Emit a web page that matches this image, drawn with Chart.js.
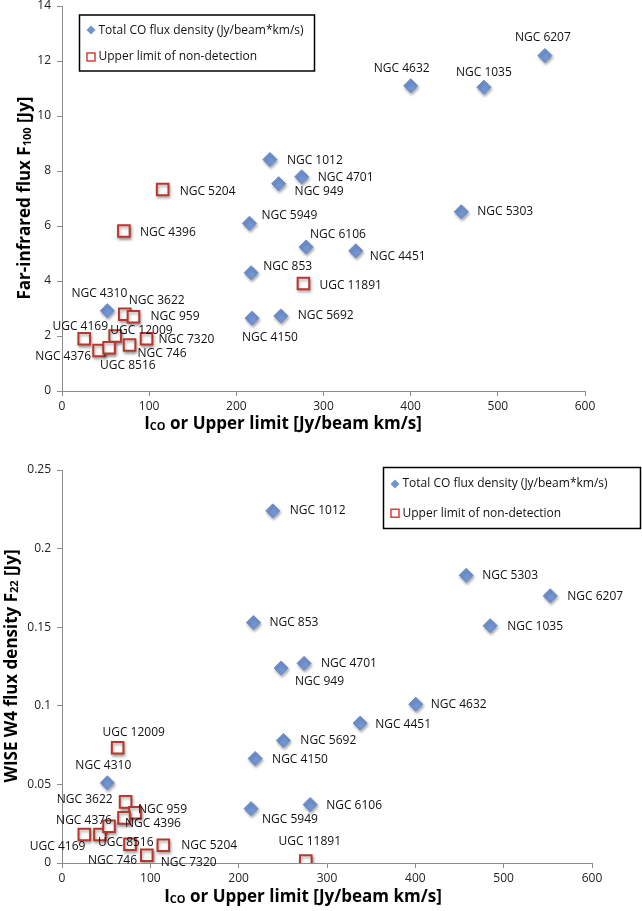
<!DOCTYPE html>
<html>
<head>
<meta charset="utf-8">
<script src="https://cdn.jsdelivr.net/npm/chart.js@4.4.0/dist/chart.umd.min.js"></script>
<style>
  body { margin: 0; background: #fff; }
  #wrapTop { position: absolute; left: 0; top: 0; width: 642px; height: 440px; }
  #wrapBottom { position: absolute; left: 0; top: 440px; width: 642px; height: 471px; }
</style>
</head>
<body>
<div id="wrapTop"><canvas id="chartTop"></canvas></div>
<div id="wrapBottom"><canvas id="chartBottom"></canvas></div>
<script>
// ---- data ----
const xTicks = [0, 100, 200, 300, 400, 500, 600];
const yTicksF100 = [0, 2, 4, 6, 8, 10, 12, 14];
const yTicksF22 = [0, 0.05, 0.1, 0.15, 0.2, 0.25];

const legendDet = 'Total CO flux density (Jy/beam*km/s)';
const legendUl = 'Upper limit of non-detection';

// top panel : F100
const detNamesF100 = ['NGC 6207', 'NGC 4632', 'NGC 1035', 'NGC 5303', 'NGC 1012', 'NGC 4701', 'NGC 949',
  'NGC 5949', 'NGC 6106', 'NGC 4451', 'NGC 853', 'NGC 4150', 'NGC 5692', 'NGC 4310'];
const detCoF100 = [554, 400, 484, 458, 238.5, 275, 248.5, 215, 280, 337, 217, 218, 251, 52];
const detF100 = [12.2, 11.1, 11.05, 6.52, 8.42, 7.79, 7.54, 6.1, 5.24, 5.1, 4.3, 2.65, 2.73, 2.92];

const ulNamesF100 = ['NGC 5204', 'NGC 4396', 'UGC 11891', 'NGC 3622', 'NGC 959', 'UGC 4169', 'UGC 12009',
  'NGC 7320', 'NGC 4376', 'UGC 8516', 'NGC 746'];
const ulCoF100 = [115.5, 71, 277, 72, 82, 25.5, 61, 97, 42.5, 54, 77.5];
const ulF100 = [7.33, 5.82, 3.91, 2.79, 2.7, 1.9, 2.0, 1.9, 1.47, 1.57, 1.67];

// bottom panel : F22
const detNamesF22 = ['NGC 1012', 'NGC 853', 'NGC 5303', 'NGC 6207', 'NGC 1035', 'NGC 4701', 'NGC 949',
  'NGC 4632', 'NGC 4451', 'NGC 5692', 'NGC 4150', 'NGC 4310', 'NGC 5949', 'NGC 6106'];
const detCoF22 = [238.6, 216.7, 457.5, 552.7, 484.7, 274, 248, 400.5, 337.5, 250.6, 218.6, 51.3, 214, 280.9];
const detF22 = [0.224, 0.153, 0.183, 0.170, 0.151, 0.127, 0.124, 0.101, 0.089, 0.078, 0.0665, 0.051, 0.0346, 0.0372];

const ulNamesF22 = ['UGC 12009', 'NGC 3622', 'NGC 959', 'NGC 4396', 'NGC 4376', 'UGC 8516', 'UGC 4169',
  'NGC 746', 'NGC 7320', 'NGC 5204', 'UGC 11891'];
const ulCoF22 = [63, 72, 82.7, 70.2, 43, 53.2, 25.3, 77, 96, 114.7, 276];
const ulF22 = [0.0733, 0.0389, 0.032, 0.0287, 0.0181, 0.0234, 0.0181, 0.0119, 0.0049, 0.0113, 0.0013];

// ---- label placement (pixel offsets from the point: dx, dy, align) ----
const detPosF100 = [[-2, -18, 'center'], [-9, -17, 'center'], [0, -15, 'center'], [16, 0, 'left'], [17, 1, 'left'],
  [16, 1, 'left'], [16, 8, 'left'], [12, -8, 'left'], [4, -12, 'left'], [14, 6, 'left'], [12, -6, 'left'],
  [18, 19, 'center'], [17, 0, 'left'], [-8, -17, 'center']];
const ulPosF100 = [[17, 2, 'left'], [16, 2, 'left'], [16, 2, 'left'], [4, -14, 'left'], [17, 0, 'left'],
  [-4, -12, 'center'], [-5, -5, 'left'], [12, 1, 'left'], [-8, 6, 'right'], [-9, 18, 'left'], [8, 9, 'left']];
const detPosF22 = [[17, 0, 'left'], [16, 0, 'left'], [16, 0, 'left'], [17, 1, 'left'], [17, 1, 'left'],
  [17, 0, 'left'], [14, 14, 'left'], [15, 0, 'left'], [15, 1, 'left'], [17, 0, 'left'], [17, 1, 'left'],
  [-4, -17, 'center'], [11, 11, 'left'], [16, 1, 'left']];
const ulPosF22 = [[16, -15, 'center'], [-13, -2, 'right'], [3, -3, 'left'], [1, 6, 'left'], [12, -14, 'right'],
  [-11, 16, 'left'], [1, 12, 'right'], [7, 16, 'right'], [14, 7, 'left'], [18, 0, 'left'], [4, -19, 'center']];

const FONT = '"Open Sans", sans-serif';
const BLUE = '#7294d2';
const RED = '#b8382e';
const AXIS = '#8c8c8c';

function pts(xs, ys) {
  return xs.map((x, i) => ({ x: x, y: ys[i] }));
}

// labels next to the markers
const pointLabels = {
  id: 'pointLabels',
  afterDatasetsDraw(chart) {
    const ctx = chart.ctx;
    ctx.save();
    ctx.font = '12px ' + FONT;
    ctx.fillStyle = '#111';
    ctx.textBaseline = 'middle';
    chart.data.datasets.forEach((ds, i) => {
      const meta = chart.getDatasetMeta(i);
      meta.data.forEach((el, j) => {
        const p = ds.labelPos[j];
        ctx.textAlign = p[2];
        ctx.fillText(ds.names[j], el.x + p[0], el.y + p[1]);
      });
    });
    ctx.restore();
  }
};

// soft shadow under markers
const markerShadow = {
  id: 'markerShadow',
  beforeDatasetsDraw(chart) {
    const ctx = chart.ctx;
    ctx.save();
    ctx.shadowColor = 'rgba(0,0,0,0.35)';
    ctx.shadowBlur = 3;
    ctx.shadowOffsetX = 1;
    ctx.shadowOffsetY = 2;
  },
  afterDatasetsDraw(chart) {
    chart.ctx.restore();
  }
};

// framed legend inside the plot
const boxLegend = {
  id: 'boxLegend',
  afterDraw(chart, args, o) {
    const ctx = chart.ctx;
    ctx.save();
    ctx.fillStyle = '#fff';
    ctx.fillRect(o.x, o.y, o.w, o.h);
    ctx.strokeStyle = '#000';
    ctx.lineWidth = 1.5;
    ctx.strokeRect(o.x, o.y, o.w, o.h);
    const mx = o.x + 11.5;
    const y1 = o.y + o.h * 0.27, y2 = o.y + o.h * 0.75;
    ctx.fillStyle = BLUE;
    ctx.beginPath();
    ctx.moveTo(mx, y1 - 4.5); ctx.lineTo(mx + 4.5, y1); ctx.lineTo(mx, y1 + 4.5); ctx.lineTo(mx - 4.5, y1);
    ctx.closePath();
    ctx.fill();
    ctx.strokeStyle = '#d0453a';
    ctx.lineWidth = 1.5;
    ctx.strokeRect(mx - 4, y2 - 4, 8, 8);
    ctx.fillStyle = '#111';
    ctx.font = '12px ' + FONT;
    ctx.textBaseline = 'middle';
    ctx.textAlign = 'left';
    ctx.fillText(legendDet, o.x + 19, y1);
    ctx.fillText(legendUl, o.x + 19, y2);
    ctx.restore();
  }
};

// axis titles with subscripts
function drawParts(ctx, parts, cx, cy) {
  let w = 0;
  parts.forEach(p => { ctx.font = p.font; w += ctx.measureText(p.t).width; });
  let x = cx - w / 2;
  parts.forEach(p => {
    ctx.font = p.font;
    ctx.fillText(p.t, x, cy + (p.sub ? 3 : 0));
    x += ctx.measureText(p.t).width;
  });
}

const axisTitles = {
  id: 'axisTitles',
  afterDraw(chart, args, o) {
    const ctx = chart.ctx;
    const big = 'bold 17px ' + FONT, small = 'bold 11px ' + FONT;
    ctx.save();
    ctx.fillStyle = '#000';
    ctx.textBaseline = 'middle';
    ctx.textAlign = 'left';
    drawParts(ctx, [{ t: 'I', font: big }, { t: 'CO', font: small, sub: true },
      { t: ' or Upper limit [Jy/beam km/s]', font: big }], o.xx, o.xy);
    ctx.translate(o.yx, o.yy);
    ctx.rotate(-Math.PI / 2);
    drawParts(ctx, [{ t: o.yText[0], font: big }, { t: o.yText[1], font: small, sub: true },
      { t: o.yText[2], font: big }], 0, 0);
    ctx.restore();
  }
};

function makeChart(id, cfg) {
  const datasets = [
    {
      data: pts(cfg.detX, cfg.detY), names: cfg.detNames, labelPos: cfg.detPos,
      pointStyle: 'rectRot', pointRadius: 7, backgroundColor: BLUE, borderColor: '#6a8cca', borderWidth: 1
    },
    {
      data: pts(cfg.ulX, cfg.ulY), names: cfg.ulNames, labelPos: cfg.ulPos,
      pointStyle: 'rect', pointRadius: 8.2, backgroundColor: '#fff', borderColor: RED, borderWidth: 2
    }
  ];
  return new Chart(document.getElementById(id), {
    type: 'scatter',
    data: { datasets: datasets },
    plugins: [markerShadow, pointLabels, boxLegend, axisTitles],
    options: {
      responsive: true,
      maintainAspectRatio: false,
      animation: false,
      events: [],
      layout: { autoPadding: false, padding: { left: 0, right: cfg.padRight, top: cfg.padTop, bottom: 0 } },
      plugins: {
        legend: { display: false },
        tooltip: { enabled: false },
        boxLegend: cfg.legend,
        axisTitles: cfg.titles
      },
      scales: {
        x: {
          type: 'linear', min: 0, max: 600,
          afterBuildTicks: s => { s.ticks = xTicks.map(v => ({ value: v })); },
          afterFit: s => { s.height = cfg.xAxisH; s.paddingLeft = 0; s.paddingRight = 0; },
          grid: { drawOnChartArea: false, tickLength: 5, color: AXIS },
          border: { color: AXIS, width: 1 },
          ticks: { color: '#222', font: { family: FONT, size: 12 }, padding: 3, maxRotation: 0, autoSkip: false }
        },
        y: {
          type: 'linear', min: 0, max: cfg.yMax,
          afterBuildTicks: s => { s.ticks = cfg.yTicks.map(v => ({ value: v })); },
          afterFit: s => { s.width = 62; s.paddingTop = 0; s.paddingBottom = 0; },
          grid: { drawOnChartArea: false, tickLength: 5, color: AXIS },
          border: { color: AXIS, width: 1 },
          ticks: { color: '#222', font: { family: FONT, size: 12 }, padding: 6, autoSkip: false, callback: v => String(v) }
        }
      }
    }
  });
}

makeChart('chartTop', {
  detX: detCoF100, detY: detF100, detNames: detNamesF100, detPos: detPosF100,
  ulX: ulCoF100, ulY: ulF100, ulNames: ulNamesF100, ulPos: ulPosF100,
  yTicks: yTicksF100, yMax: 14, padRight: 57, padTop: 6, xAxisH: 49,
  legend: { x: 79.5, y: 15, w: 235, h: 56 },
  titles: { xx: 283, xy: 424, yx: 25, yy: 198, yText: ['Far-infrared flux F', '100', ' [Jy]'] }
});

makeChart('chartBottom', {
  detX: detCoF22, detY: detF22, detNames: detNamesF22, detPos: detPosF22,
  ulX: ulCoF22, ulY: ulF22, ulNames: ulNamesF22, ulPos: ulPosF22,
  yTicks: yTicksF22, yMax: 0.25, padRight: 50, padTop: 30, xAxisH: 48,
  legend: { x: 383.5, y: 27.5, w: 257, h: 61 },
  titles: { xx: 303, xy: 457, yx: 12, yy: 226, yText: ['WISE W4 flux density F', '22', ' [Jy]'] }
});
</script>
</body>
</html>
